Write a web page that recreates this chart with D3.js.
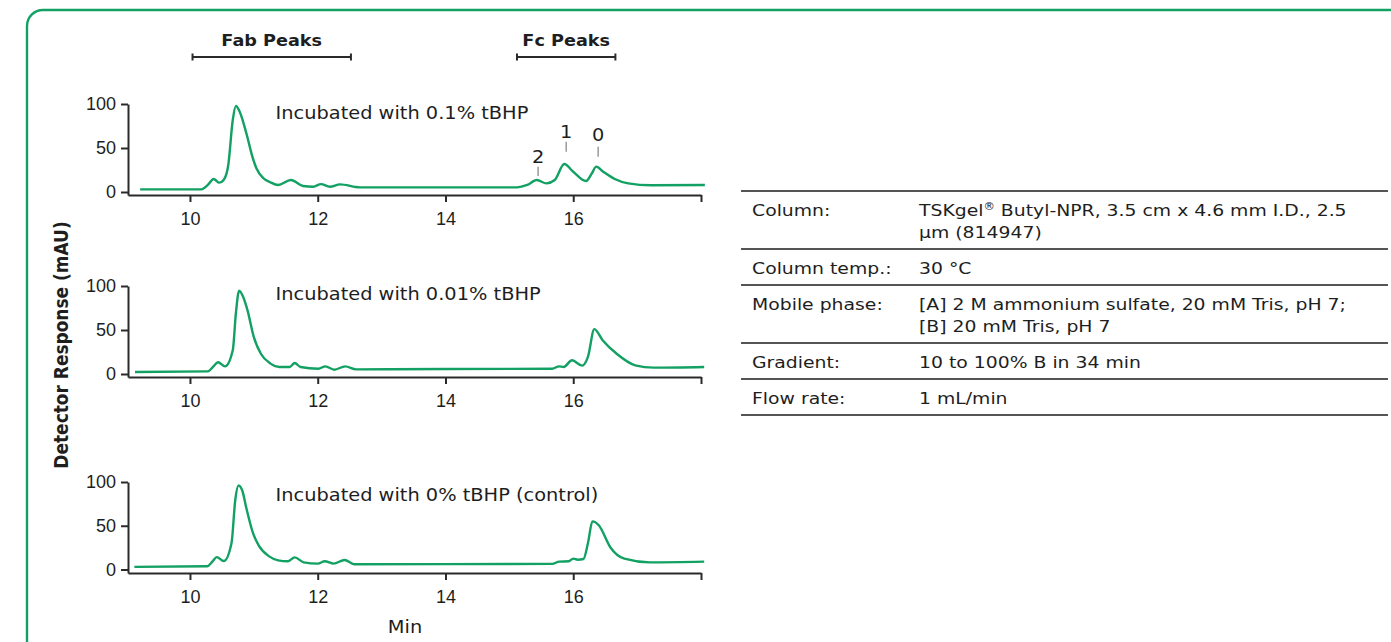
<!DOCTYPE html>
<html><head><meta charset="utf-8">
<script src="https://cdn.jsdelivr.net/npm/d3@7"></script>
<style>html,body{margin:0;padding:0;background:#fff;overflow:hidden}</style>
</head><body>
<svg id="c" width="1391" height="642"></svg>
<script>
// ---------------- data ----------------
const xTickValues = [10, 12, 14, 16, 18];
const xTickLabels = ["10", "12", "14", "16", ""];
const yTickValues = [0, 50, 100];

const panelLabels = ["Incubated with 0.1% tBHP", "Incubated with 0.01% tBHP", "Incubated with 0% tBHP (control)"];

const time01 = [9.22, 10.18, 10.28, 10.37, 10.46, 10.53, 10.6, 10.67, 10.72, 10.78, 10.89, 10.97, 11.04, 11.15, 11.26, 11.38, 11.58, 11.77, 11.93, 12.05, 12.19, 12.35, 12.66, 13.5, 15.12, 15.28, 15.43, 15.58, 15.71, 15.86, 16.0, 16.2, 16.29, 16.36, 16.47, 16.65, 16.86, 17.22, 18.06];
const resp01 = [3, 3, 8, 14.8, 10.6, 14, 30.7, 81.8, 97.7, 91, 64.8, 42, 27, 15.6, 11, 8, 13.6, 6.8, 6, 9, 6, 8.7, 5.3, 5.3, 5.3, 8, 13.6, 9.8, 13.6, 31.8, 23, 12.5, 21, 28.8, 23, 14.8, 9.8, 7.6, 8];

const time001 = [9.14, 10.28, 10.36, 10.44, 10.55, 10.67, 10.72, 10.77, 10.83, 10.9, 11.0, 11.11, 11.26, 11.4, 11.56, 11.64, 11.73, 12.01, 12.12, 12.26, 12.43, 12.6, 14.0, 15.67, 15.78, 15.85, 15.98, 16.14, 16.23, 16.33, 16.46, 16.68, 16.97, 17.26, 18.05];
const resp001 = [2.3, 3, 8, 13.3, 8.7, 27, 70, 94.7, 88, 72.6, 42, 23, 11.8, 8, 8, 12.5, 8, 6, 8.7, 4.9, 8.7, 5.3, 5.6, 6, 8.7, 8, 15.6, 9.5, 19.4, 51, 38.4, 23, 9.9, 7.2, 8];

const time0 = [9.13, 10.27, 10.35, 10.42, 10.53, 10.65, 10.71, 10.76, 10.82, 10.88, 10.99, 11.08, 11.24, 11.38, 11.53, 11.64, 11.78, 12.0, 12.11, 12.25, 12.42, 12.57, 14.0, 15.67, 15.78, 15.93, 16.0, 16.07, 16.16, 16.23, 16.3, 16.4, 16.58, 16.8, 17.2, 18.05];
const resp0 = [3, 3.7, 9, 14.2, 9.7, 30, 80, 96, 90, 71, 41, 27, 15, 10.5, 9.4, 13.9, 8.2, 6.7, 9.4, 6.7, 10.9, 6, 6.2, 6.4, 9, 9.4, 12.4, 11.2, 12, 30, 55, 50.6, 25.5, 12.4, 8.2, 9];

// peak annotations (top panel)
const peakNames = ["2", "1", "0"];
const peakTimes = [15.45, 15.89, 16.39];
const peakMarkLow = [18.2, 45.8, 40.1];
const peakMarkHigh = [28.8, 57.2, 51.5];
const peakLabelAt = [32.4, 61.4, 57.4];

// region brackets
const regionNames = ["Fab Peaks", "Fc Peaks"];
const regionStart = [10.04, 15.12];
const regionEnd = [12.52, 16.66];

// conditions table
const tableLabels = ["Column:", "Column temp.:", "Mobile phase:", "Gradient:", "Flow rate:"];
const tableValues = [
  ["TSKgel® Butyl-NPR, 3.5 cm x 4.6 mm I.D., 2.5", "µm (814947)"],
  ["30 °C"],
  ["[A] 2 M ammonium sulfate, 20 mM Tris, pH 7;", "[B] 20 mM Tris, pH 7"],
  ["10 to 100% B in 34 min"],
  ["1 mL/min"]
];

const axisTitleY = "Detector Response (mAU)";
const axisTitleX = "Min";

// ---------------- layout ----------------
const SX = 1.14;           // horizontal glyph stretch of the reference
const GREEN = "#12a063";
const INK = "#1e1e1e";
const FONT = "'DejaVu Sans', Verdana, sans-serif";
const TICKFONT = "'Liberation Sans', Arial, sans-serif";

const svg = d3.select("#c");

// frame
svg.append("rect").attr("x", 27).attr("y", 10).attr("width", 1450).attr("height", 700)
  .attr("rx", 16).attr("fill", "none").attr("stroke", GREEN).attr("stroke-width", 2.4);

function stext(parent, px, py, str, size, opts = {}) {
  return parent.append("text")
    .attr("transform", `translate(${px},${py}) scale(${opts.sx || SX},1)`)
    .attr("font-family", FONT).attr("font-size", size)
    .attr("font-weight", opts.weight || "normal")
    .attr("text-anchor", opts.anchor || "start")
    .attr("fill", opts.fill || INK)
    .text(str);
}

const x = d3.scaleLinear().domain([9.03, 18]).range([128, 701]);

const panels = [
  { axisY: 195, y0: 192, y100: 104, labelV: 83, t: time01, v: resp01 },
  { axisY: 377, y0: 374, y100: 286, labelV: 84, t: time001, v: resp001 },
  { axisY: 573, y0: 569.5, y100: 482, labelV: 78, t: time0, v: resp0 }
];

panels.forEach((p, i) => {
  const base = d3.scaleLinear().domain([0, 100]).range([p.y0, p.y100]);
  const y = d3.scaleLinear().domain([base.invert(p.axisY), 100]).range([p.axisY, p.y100]);
  const g = svg.append("g");

  const xa = g.append("g").attr("transform", `translate(0,${p.axisY})`)
    .call(d3.axisBottom(x).tickValues(xTickValues).tickSize(7).tickSizeOuter(0).tickPadding(10)
      .tickFormat((d, k) => xTickLabels[k]));
  const ya = g.append("g").attr("transform", `translate(${x.range()[0]},0)`)
    .call(d3.axisLeft(y).tickValues(yTickValues).tickSize(7).tickSizeOuter(0).tickPadding(5));
  [xa, ya].forEach(a => {
    a.select(".domain").attr("stroke", "#2a2a2a").attr("stroke-width", 2);
    a.selectAll(".tick line").attr("stroke", "#2a2a2a").attr("stroke-width", 2);
    a.selectAll(".tick text").attr("font-family", TICKFONT).attr("font-size", 18).attr("fill", INK);
  });

  const pts = p.t.map((t, k) => ({ t, v: p.v[k] }));
  g.append("path").datum(pts)
    .attr("fill", "none").attr("stroke", GREEN).attr("stroke-width", 2.4)
    .attr("stroke-linejoin", "round")
    .attr("d", d3.line().x(d => x(d.t)).y(d => y(d.v)).curve(d3.curveMonotoneX));

  stext(g, x(11.34), y(p.labelV), panelLabels[i], 17);

  if (i === 0) {
    peakNames.forEach((nm, k) => {
      g.append("line").attr("x1", x(peakTimes[k])).attr("x2", x(peakTimes[k]))
        .attr("y1", y(peakMarkLow[k])).attr("y2", y(peakMarkHigh[k]))
        .attr("stroke", "#999").attr("stroke-width", 1.5);
      stext(g, x(peakTimes[k]), y(peakLabelAt[k]), nm, 17, { anchor: "middle" });
    });
  }
});

// region brackets
regionNames.forEach((nm, k) => {
  const x1 = x(regionStart[k]), x2 = x(regionEnd[k]);
  const by = 57;
  const g = svg.append("g").attr("stroke", "#2a2a2a").attr("stroke-width", 2);
  g.append("line").attr("x1", x1).attr("x2", x2).attr("y1", by).attr("y2", by);
  g.append("line").attr("x1", x1).attr("x2", x1).attr("y1", by - 3.5).attr("y2", by + 3.5);
  g.append("line").attr("x1", x2).attr("x2", x2).attr("y1", by - 3.5).attr("y2", by + 3.5);
  stext(svg, (x1 + x2) / 2, 45.5, nm, 16.5, { weight: "bold", anchor: "middle", sx: 1.07 });
});

// axis titles
svg.append("text")
  .attr("transform", `translate(68,345) rotate(-90) scale(1,${SX})`)
  .attr("font-family", FONT).attr("font-size", 17).attr("font-weight", "bold")
  .attr("text-anchor", "middle").attr("fill", INK).text(axisTitleY);
stext(svg, 405, 633, axisTitleX, 17, { anchor: "middle" });

// conditions table
const TL = 741, TR = 1388, labelX = 752, valueX = 919;
let rowTop = 191;
const lineGap = 22;
svg.append("line").attr("x1", TL).attr("x2", TR).attr("y1", rowTop).attr("y2", rowTop)
  .attr("stroke", "#555").attr("stroke-width", 2);
tableLabels.forEach((lab, r) => {
  const lines = tableValues[r];
  const h = 36 + (lines.length - 1) * lineGap;
  const firstBase = rowTop + 18.5 + 6;
  stext(svg, labelX, firstBase, lab, 16.5);
  lines.forEach((ln, k) => {
    const t = svg.append("text")
      .attr("transform", `translate(${valueX},${firstBase + k * lineGap}) scale(${SX},1)`)
      .attr("font-family", FONT).attr("font-size", 16.5).attr("fill", INK);
    const parts = ln.split("®");
    t.append("tspan").text(parts[0]);
    if (parts.length > 1) {
      t.append("tspan").attr("font-size", 10).attr("dy", -6).text("®");
      t.append("tspan").attr("dy", 6).text(parts[1]);
    }
  });
  rowTop += h;
  svg.append("line").attr("x1", TL).attr("x2", TR).attr("y1", rowTop).attr("y2", rowTop)
    .attr("stroke", "#555").attr("stroke-width", 2);
});
</script>
</body></html>
